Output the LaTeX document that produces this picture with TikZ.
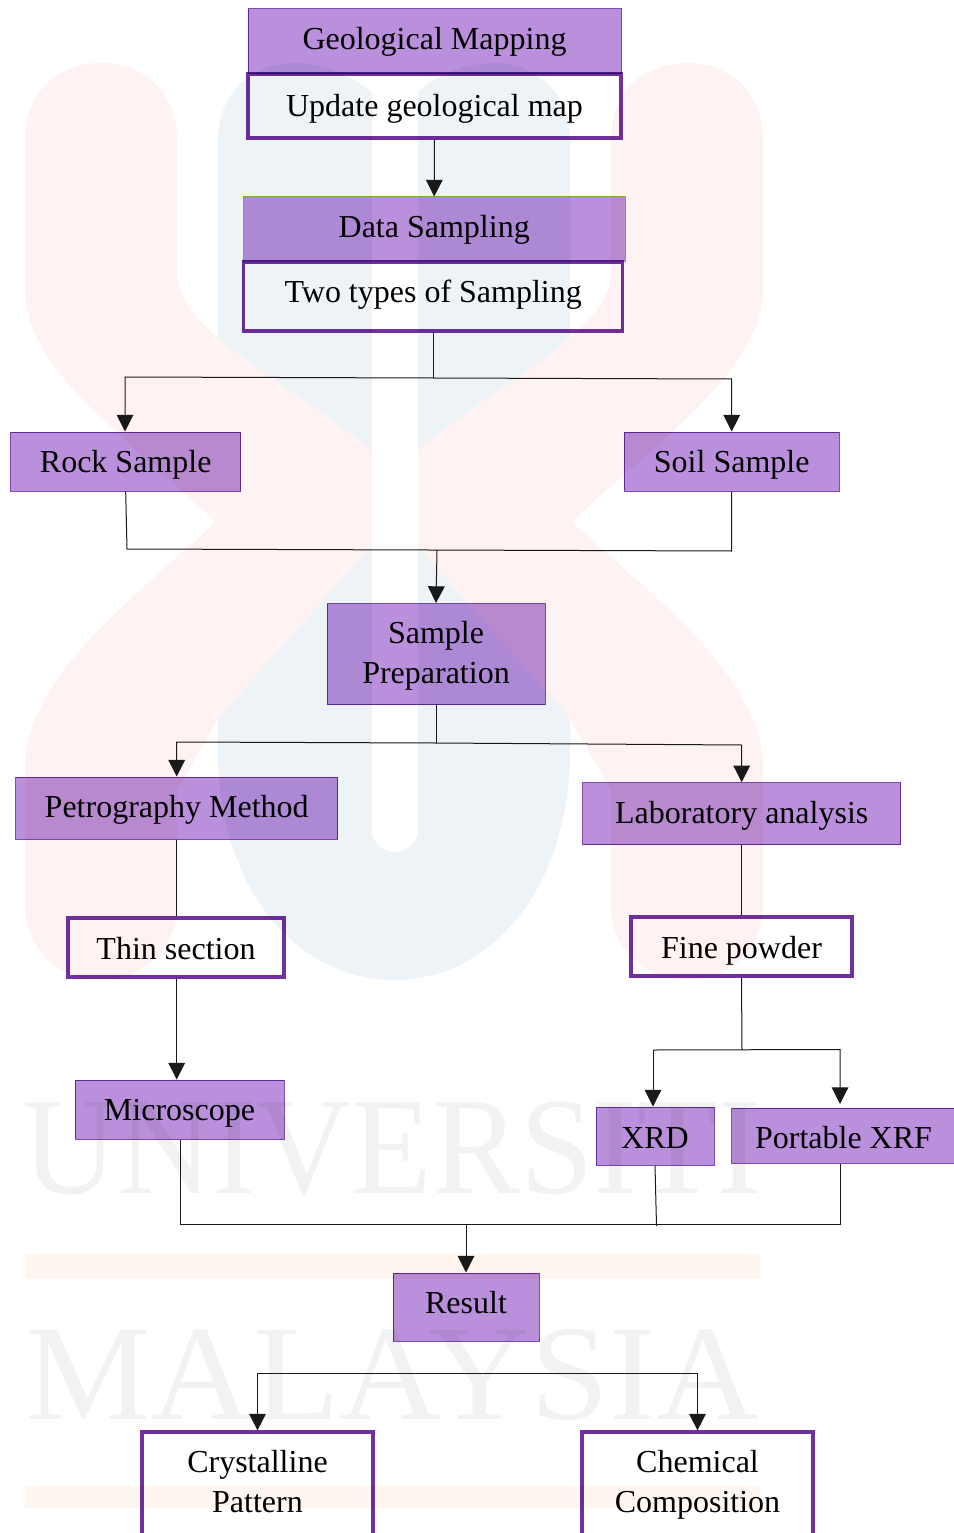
\documentclass[tikz,border=0pt]{standalone}
\usepackage{fontspec}
\setmainfont{Liberation Serif}
\usetikzlibrary{arrows.meta,calc}
\definecolor{boxfill}{HTML}{BA90DC}
\definecolor{boxline}{HTML}{8448B4}
\definecolor{frameline}{HTML}{7030A0}
\definecolor{greenline}{HTML}{70AD47}
\definecolor{markblue}{HTML}{EEF3F8}
\definecolor{markpink}{HTML}{FEF3F2}
\definecolor{markgrey}{HTML}{F2F2F2}
\definecolor{markorange}{HTML}{FEF6EF}
\tikzset{
  boxbase/.style={inner sep=0pt,align=center,text=black,
    font=\fontsize{24}{30}\selectfont},
  fillbox/.style={boxbase,draw=boxline,line width=0.75pt,fill=boxfill},
  framebox/.style={boxbase,draw=frameline,line width=2.4pt},
  boxsize/.style 2 args={minimum width=#1*0.75pt,minimum height=#2*0.75pt},
  textat/.style={text height=20pt+#1*0.75pt,text depth=20pt-#1*0.75pt},
  link/.style={line width=0.75pt,draw=black!90},
  marktext/.style={inner sep=0pt,text=markgrey,transform shape}
}
\begin{document}
\begin{tikzpicture}[x=0.75pt,y=-0.75pt,>={Triangle[length=12.5pt,width=12.5pt]}]
    \useasboundingbox (0,0) rectangle (953,1533);
    % faint crest behind the chart
    \fill[markblue] (218,140) .. controls (218,90) and (255,63) .. (294,63)
      .. controls (333,63) and (394,90) .. (394,140)
      .. controls (394,90) and (455,63) .. (494,63)
      .. controls (533,63) and (570,90) .. (570,140) -- (570,750)
      .. controls (570,890) and (490,980) .. (394,980)
      .. controls (298,980) and (218,890) .. (218,750) -- cycle;
    \foreach \mirror/\move in {1/0,-1/788} {
      \begin{scope}[shift={(\move,0)},xscale=\mirror]
        \fill[markpink] (25,140) .. controls (25,90) and (60,63) .. (101,63)
          .. controls (142,63) and (177,90) .. (177,140) -- (177,273)
          .. controls (177,335) and (300,385) .. (394,470) -- (394,520)
          -- (219,717) -- (177,790) -- (177,905)
          .. controls (177,950) and (142,980) .. (101,980)
          .. controls (60,980) and (25,950) .. (25,905) -- (25,767)
          .. controls (25,680) and (130,600) .. (216,522)
          .. controls (130,440) and (25,370) .. (25,290) -- cycle;
      \end{scope}
    }
    \fill[white] (372,55) -- (418,55) -- (418,830)
      .. controls (418,845) and (405,852) .. (395,852)
      .. controls (385,852) and (372,845) .. (372,830) -- cycle;
    \node[marktext,xscale=0.95,font=\fontsize{104}{104}\selectfont] (markuni) at (392,1149) {UNIVERSITI};
    \node[marktext,xscale=1.04,font=\fontsize{102}{102}\selectfont] (markmal) at (392,1375) {MALAYSIA};
    \fill[markorange] (25,1254) rectangle (760,1279);
    \fill[markorange] (25,1486) rectangle (760,1508);
    % the boxes
    \begin{scope}[blend mode=multiply]
      \node[fillbox,boxsize={373}{65},textat=8.5] (geomap) at (434.5,41.5) {Geological Mapping};
      \node[fillbox,draw=none,boxsize={381}{65},textat=8.5] (datasamp) at (434.2,229.5) {Data Sampling};
      \node[fillbox,boxsize={230}{59},textat=10.5] (rock) at (125.7,461.5) {Rock Sample};
      \node[fillbox,boxsize={215}{59},textat=10.5] (soil) at (731.7,461.5) {Soil Sample};
      \node[fillbox,boxsize={218}{101},textat=32] (prep) at (436,654) {Sample\\Preparation};
      \node[fillbox,boxsize={322}{62},textat=9.5] (petro) at (176.7,808) {Petrography Method};
      \node[fillbox,boxsize={318}{62},textat=9.5] (lab) at (741.7,813.7) {Laboratory analysis};
      \node[fillbox,boxsize={209}{59},textat=10.5] (micro) at (179.5,1109.5) {Microscope};
      \node[fillbox,boxsize={118}{58},textat=12.6] (xrd) at (655,1136) {XRD};
      \node[fillbox,boxsize={224}{55},textat=12.9] (xrf) at (843.5,1135.5) {Portable XRF};
      \node[fillbox,boxsize={146}{68},textat=6.7] (result) at (466,1307) {Result};
    \end{scope}
    \draw[greenline,line width=0.8pt] (datasamp.south west) -- (datasamp.north west)
      -- (datasamp.north east) -- (datasamp.south east);
    \begin{scope}[blend mode=multiply]
      \node[framebox,boxsize={373}{64},textat=10.5] (geoupdate) at (434.5,106) {Update geological map};
      \node[framebox,boxsize={379}{69},textat=6.5] (twotypes) at (433.2,296.5) {Two types of Sampling};
      \node[framebox,boxsize={216}{59},textat=11.7] (thin) at (176,947.5) {Thin section};
      \node[framebox,boxsize={221}{59},textat=11.5] (fine) at (741.5,946.5) {Fine powder};
      \node[framebox,boxsize={231}{104},textat=31] (crystal) at (257.5,1484) {Crystalline\\Pattern};
      \node[framebox,boxsize={231}{104},textat=31] (chem) at (697.5,1484) {Chemical\\Composition};
    \end{scope}
    % the junctions
    \coordinate (sampsplit) at (433,378);
    \coordinate (sampleft) at (125,377);
    \coordinate (sampright) at (731.7,379);
    \coordinate (mergeleft) at (127,549);
    \coordinate (mergeright) at (731.7,551);
    \coordinate (mergemid) at (437,550);
    \coordinate (prepsplit) at (436,743);
    \coordinate (prepleft) at (176.7,742);
    \coordinate (prepright) at (741.7,745);
    \coordinate (finesplit) at (742,1050);
    \coordinate (fineleft) at (653,1050);
    \coordinate (fineright) at (840,1049.5);
    \coordinate (xrfstop) at (840,1104);
    \coordinate (endleft) at (180,1224);
    \coordinate (endright) at (840,1224);
    \coordinate (endxrd) at (656.5,1226);
    \coordinate (endmid) at (466,1224);
    \coordinate (resleft) at (257.5,1373);
    \coordinate (resright) at (697.5,1373);
    % the connectors
    \draw[link,->] (geoupdate.south) -- (datasamp.north);
    \draw[link] (twotypes.south -| sampsplit) -- (sampsplit);
    \draw[link,->] (sampsplit) -- (sampleft) -- (rock.north -| sampleft);
    \draw[link,->] (sampsplit) -- (sampright) -- (soil.north);
    \draw[link] (rock.south) -- (mergeleft) -- (mergeright) -- (soil.south);
    \draw[link,->] (mergemid) -- (prep.north);
    \draw[link] (prep.south) -- (prepsplit);
    \draw[link,->] (prepsplit) -- (prepleft) -- (petro.north);
    \draw[link,->] (prepsplit) -- (prepright) -- (lab.north);
    \draw[link] (petro.south) -- (thin.north -| petro.south);
    \draw[link,->] (thin.south -| petro.south) -- (micro.north -| petro.south);
    \draw[link] (lab.south) -- (fine.north -| lab.south);
    \draw[link] (fine.south) -- (finesplit);
    \draw[link,->] (fineleft) -- (xrd.north -| fineleft);
    \draw[link,->] (fineleft) -- (fineright) -- (xrfstop);
    \draw[link] (micro.south -| endleft) -- (endleft) -- (endright) -- (xrf.south -| endright);
    \draw[link] (xrd.south) -- (endxrd);
    \draw[link,->] (endmid) -- (result.north);
    \draw[link,->] (resleft) -- (crystal.north);
    \draw[link,->] (resleft) -- (resright) -- (chem.north);
\end{tikzpicture}
\end{document}
